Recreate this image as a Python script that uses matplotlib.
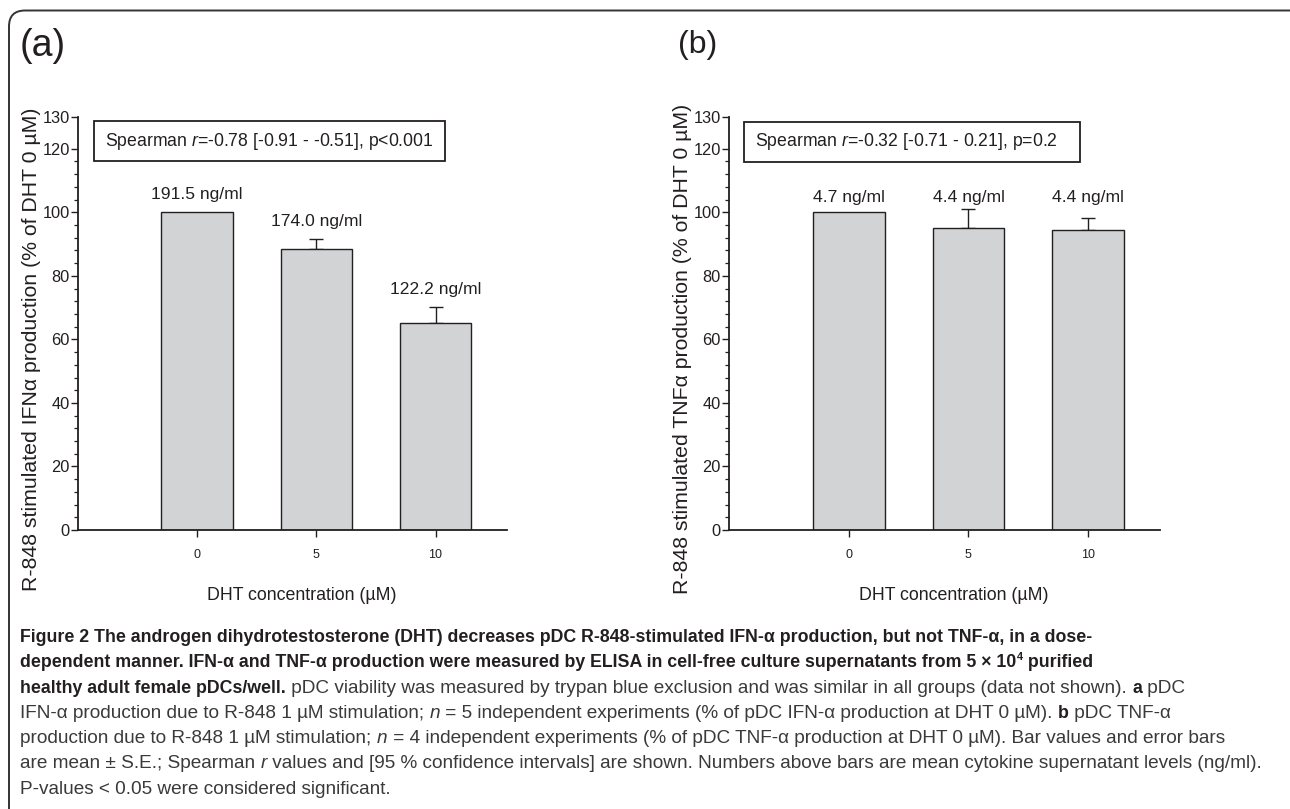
import numpy as np
import matplotlib
matplotlib.use('Agg')
import matplotlib.pyplot as plt
from matplotlib import font_manager as fm
from matplotlib.patches import FancyBboxPatch, Rectangle

# ---------------- data ----------------
conc = [0, 5, 10]
conc_labels = ['0', '5', '10']
yticks = [0, 20, 40, 60, 80, 100, 120, 130]

ifn_mean = [100.0, 88.5, 65.3]
ifn_se = [0.0, 3.0, 4.8]
ifn_ng = ['191.5 ng/ml', '174.0 ng/ml', '122.2 ng/ml']
ifn_stat = r'Spearman $r$=-0.78 [-0.91 - -0.51], p<0.001'
ifn_ylabel = 'R-848 stimulated IFNα production (% of DHT 0 µM)'

tnf_mean = [100.0, 95.0, 94.3]
tnf_se = [0.0, 6.0, 3.8]
tnf_ng = ['4.7 ng/ml', '4.4 ng/ml', '4.4 ng/ml']
tnf_stat = r'Spearman $r$=-0.32 [-0.71 - 0.21], p=0.2'
tnf_ylabel = 'R-848 stimulated TNFα production (% of DHT 0 µM)'

xlabel = 'DHT concentration (µM)'

caption = [
    [('b', 'Figure 2 The androgen dihydrotestosterone (DHT) decreases pDC R-848-stimulated IFN-α production, but not TNF-α, in a dose-')],
    [('b', 'dependent manner. IFN-α and TNF-α production were measured by ELISA in cell-free culture supernatants from 5 × 10'),
     ('s', '4'), ('b', ' purified')],
    [('b', 'healthy adult female pDCs/well.'),
     ('r', ' pDC viability was measured by trypan blue exclusion and was similar in all groups (data not shown). '),
     ('b', 'a'), ('r', ' pDC')],
    [('r', 'IFN-α production due to R-848 1 µM stimulation; '), ('i', 'n'),
     ('r', ' = 5 independent experiments (% of pDC IFN-α production at DHT 0 µM). '), ('b', 'b'),
     ('r', ' pDC TNF-α')],
    [('r', 'production due to R-848 1 µM stimulation; '), ('i', 'n'),
     ('r', ' = 4 independent experiments (% of pDC TNF-α production at DHT 0 µM). Bar values and error bars')],
    [('r', 'are mean ± S.E.; Spearman '), ('i', 'r'),
     ('r', ' values and [95 % confidence intervals] are shown. Numbers above bars are mean cytokine supernatant levels (ng/ml).')],
    [('r', 'P-values < 0.05 were considered significant.')],
]

# ---------------- fonts ----------------
names = {f.name for f in fm.fontManager.ttflist}
NARROW = 'Liberation Sans Narrow' if 'Liberation Sans Narrow' in names else 'Liberation Sans'
FN = [NARROW, 'Liberation Sans', 'DejaVu Sans']
FR = ['Liberation Sans', 'DejaVu Sans']
plt.rcParams['font.family'] = FN
plt.rcParams['mathtext.fontset'] = 'custom'
plt.rcParams['mathtext.rm'] = NARROW
plt.rcParams['mathtext.it'] = NARROW + ':italic'

INK = '#231f20'
CAP_R = '#3a3a3a'
BAR = '#d1d3d4'

W, H = 1290, 809
fig = plt.figure(figsize=(W / 100, H / 100), dpi=100)
fig.patch.set_facecolor('white')

ov = fig.add_axes([0, 0, 1, 1], zorder=0)
ov.set_xlim(0, W)
ov.set_ylim(H, 0)
ov.axis('off')

# border
ov.add_patch(FancyBboxPatch((9, 10.5), 1300, 840, boxstyle='round,pad=0,rounding_size=16',
                            fill=False, ec='#333333', lw=1.4, clip_on=False))

ov.text(20, 46, '(a)', fontsize=27, family=FR, color=INK, ha='left', va='center')
ov.text(678, 45, '(b)', fontsize=23, family=FR, color=INK, ha='left', va='center')


def panel(left_px, right_px, means, se, ng, stat, ylabel, ylab_x, box, common_label):
    bottom_px, top_px = 530, 117
    ax = fig.add_axes([left_px / W, (H - bottom_px) / H, (right_px - left_px) / W,
                       (bottom_px - top_px) / H], zorder=2)
    ax.patch.set_alpha(0)
    ax.bar(conc, means, width=3, color=BAR, edgecolor=INK, linewidth=1.0, zorder=2)
    idx = [i for i in range(len(conc)) if se[i] > 0]
    ax.errorbar([conc[i] for i in idx], [means[i] for i in idx],
                yerr=[np.zeros(len(idx)), [se[i] for i in idx]], fmt='none',
                ecolor=INK, elinewidth=1.0, capsize=5, capthick=1.0, zorder=1)
    ax.set_xlim(-5, 13)
    ax.set_ylim(0, 130)
    for s in ('top', 'right'):
        ax.spines[s].set_visible(False)
    for s in ('left', 'bottom'):
        ax.spines[s].set_linewidth(1.3)
        ax.spines[s].set_color(INK)
    ax.set_yticks(yticks)
    ax.set_yticklabels([str(v) for v in yticks])
    ax.set_yticks([v for v in range(4, 120, 4) if v % 20], minor=True)
    ax.tick_params(axis='y', which='major', length=5, width=1.0, pad=1, labelsize=11.8,
                   colors=INK, direction='out')
    ax.tick_params(axis='y', which='minor', length=3, width=0.9, colors=INK, direction='out')
    ax.set_xticks(conc)
    ax.set_xticklabels(conc_labels)
    ax.tick_params(axis='x', which='major', length=5, width=1.0, pad=9, labelsize=9,
                   colors=INK, direction='out')
    tops = [m + e for m, e in zip(means, se)]
    for x, t, lab in zip(conc, tops, ng):
        if common_label:
            ax.text(x, max(tops) + 2.2, lab, ha='center', va='baseline', fontsize=12.6, color=INK)
        else:
            ax.annotate(lab, xy=(x, t), xytext=(0, 9.5), textcoords='offset points',
                        ha='center', va='baseline', fontsize=12.6, color=INK)
    x0, x1, y0, y1, tx = box
    ax.add_patch(Rectangle((x0, y0), x1 - x0, y1 - y0, transform=ax.transAxes, fill=False,
                           ec=INK, lw=1.3, clip_on=False))
    ax.text(tx, (y0 + y1) / 2, stat, transform=ax.transAxes, ha='left', va='center',
            fontsize=12.7, color=INK)
    ov.text(ylab_x, 349, ylabel, rotation=90, ha='center', va='center', fontsize=15.3,
            family=FR, color=INK)
    ov.text((left_px + right_px) / 2 + 9, 596, xlabel, ha='center', va='center',
            fontsize=12.8, color=INK)
    return ax


panel(78, 507, ifn_mean, ifn_se, ifn_ng, ifn_stat, ifn_ylabel, 31.5,
      (0.0373, 0.8555, 0.8935, 0.990, 0.063), False)
panel(729, 1160, tnf_mean, tnf_se, tnf_ng, tnf_stat, tnf_ylabel, 682,
      (0.0348, 0.8144, 0.891, 0.988, 0.0603), True)

# ---------------- caption ----------------
renderer = fig.canvas.get_renderer()


def kw_for(kind, sb, sr):
    if kind == 'b':
        return dict(fontsize=sb, fontweight='bold', color=INK)
    if kind == 's':
        return dict(fontsize=sb * 0.62, fontweight='bold', color=INK)
    if kind == 'i':
        return dict(fontsize=sr, fontstyle='italic', color=CAP_R)
    return dict(fontsize=sr, color=CAP_R)


def seg_w(txt, kw):
    t = ov.text(0, 0, txt + '|', **kw)
    w1 = t.get_window_extent(renderer).width
    t.remove()
    t = ov.text(0, 0, '|', **kw)
    w2 = t.get_window_extent(renderer).width
    t.remove()
    return w1 - w2


def line_w(line, sb, sr):
    return sum(seg_w(txt, kw_for(k, sb, sr)) for k, txt in line)


base = 12.0
sb = base * 1068 / line_w(caption[0], base, base)
sr = base * 1250 / line_w(caption[5], base, base)

x0 = 20.5
for i, line in enumerate(caption):
    y = 642 + 25.3 * i
    x = x0
    for k, txt in line:
        kw = kw_for(k, sb, sr)
        yy = y - 7 if k == 's' else y
        ov.text(x, yy, txt, ha='left', va='baseline', **kw)
        x += seg_w(txt, kw)

fig.savefig('out.png', dpi=100, facecolor='white')
